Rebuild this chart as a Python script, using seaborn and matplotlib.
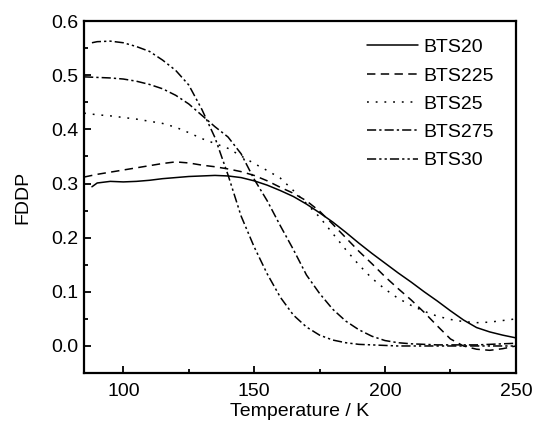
import matplotlib
matplotlib.use("Agg")
import matplotlib.pyplot as plt
import seaborn as sns
import pandas as pd
from matplotlib.ticker import MultipleLocator

# temperature grids (K)
temp_main = [85, 90, 95, 100, 105, 110, 115, 120, 125, 130, 135, 140, 145, 150,
             155, 160, 165, 170, 175, 180, 185, 190, 195, 200, 205, 210, 215,
             220, 225, 230, 235, 240, 245, 250]
temp_late = [88] + temp_main[1:]

bts20 = [0.294, 0.301, 0.304, 0.303, 0.304, 0.306, 0.309, 0.311, 0.313, 0.314,
         0.315, 0.314, 0.311, 0.305, 0.297, 0.287, 0.276, 0.262, 0.246, 0.229,
         0.210, 0.190, 0.171, 0.153, 0.135, 0.118, 0.100, 0.083, 0.065, 0.048,
         0.034, 0.026, 0.020, 0.015]
bts225 = [0.312, 0.317, 0.321, 0.325, 0.329, 0.333, 0.337, 0.340, 0.338, 0.334,
          0.331, 0.327, 0.322, 0.315, 0.305, 0.293, 0.282, 0.268, 0.249, 0.225,
          0.200, 0.175, 0.152, 0.128, 0.106, 0.085, 0.062, 0.037, 0.013, 0.000,
          -0.006, -0.008, -0.005, 0.000]
bts25 = [0.430, 0.427, 0.425, 0.422, 0.419, 0.415, 0.411, 0.404, 0.394, 0.383,
         0.374, 0.365, 0.351, 0.337, 0.324, 0.310, 0.287, 0.263, 0.238, 0.208,
         0.178, 0.150, 0.125, 0.105, 0.088, 0.075, 0.064, 0.055, 0.049, 0.045,
         0.043, 0.044, 0.047, 0.050]
bts275 = [0.497, 0.496, 0.495, 0.493, 0.489, 0.483, 0.475, 0.463, 0.447, 0.426,
          0.405, 0.386, 0.355, 0.308, 0.268, 0.222, 0.178, 0.131, 0.097, 0.068,
          0.046, 0.030, 0.018, 0.010, 0.006, 0.004, 0.003, 0.002, 0.002, 0.002,
          0.002, 0.003, 0.004, 0.005]
bts30 = [0.560, 0.562, 0.563, 0.560, 0.553, 0.544, 0.528, 0.509, 0.482, 0.437,
         0.385, 0.316, 0.240, 0.183, 0.133, 0.090, 0.057, 0.035, 0.020, 0.011,
         0.006, 0.003, 0.002, 0.001, 0.000, 0.000, 0.000, 0.000, 0.000, 0.000,
         0.000, 0.000, 0.000, 0.000]

samples = ["BTS20", "BTS225", "BTS25", "BTS275", "BTS30"]
series = [(temp_late, bts20), (temp_main, bts225), (temp_main, bts25),
          (temp_main, bts275), (temp_late, bts30)]

frames = []
for name, (t, v) in zip(samples, series):
    frames.append(pd.DataFrame({"T": t, "FDDP": v, "sample": name}))
df = pd.concat(frames, ignore_index=True)

sns.set_style("ticks", {"axes.edgecolor": "black", "text.color": "black",
                        "xtick.color": "black", "ytick.color": "black",
                        "axes.labelcolor": "black"})
plt.rcParams["font.family"] = ["Liberation Sans", "DejaVu Sans"]

dash_styles = {
    "BTS20": "",
    "BTS225": (5.5, 3.5),
    "BTS25": (1.2, 4.5),
    "BTS275": (6, 2, 1.5, 2),
    "BTS30": (6, 2, 1.5, 2, 1.5, 2),
}

fig = plt.figure(figsize=(5.39, 4.22), dpi=100)
ax = fig.add_axes([0.156, 0.116, 0.801, 0.834])
sns.lineplot(data=df, x="T", y="FDDP", style="sample", style_order=samples,
             dashes=dash_styles, color="black", linewidth=1.1, ax=ax,
             sort=False, estimator=None)

ax.set_xlim(85, 250)
ax.set_ylim(-0.05, 0.6)
ax.set_xticks([100, 150, 200, 250])
ax.set_yticks([0.0, 0.1, 0.2, 0.3, 0.4, 0.5, 0.6])
ax.xaxis.set_minor_locator(MultipleLocator(25))
ax.yaxis.set_minor_locator(MultipleLocator(0.05))
ax.tick_params(which="major", direction="in", length=5, width=1.3,
               labelsize=14, top=False, right=False)
ax.tick_params(which="minor", direction="in", length=3, width=1.3,
               top=False, right=False)
ax.tick_params(axis="x", which="major", pad=7)
ax.tick_params(axis="y", which="major", pad=4)
for s in ax.spines.values():
    s.set_linewidth(1.6)

ax.set_xlabel("Temperature / K", fontsize=14, labelpad=2)
ax.set_ylabel("FDDP", fontsize=14, labelpad=14)

handles, labels = ax.get_legend_handles_labels()
ax.legend(handles, labels, loc="upper right", frameon=False, fontsize=14,
          handlelength=2.6, handletextpad=0.3, labelspacing=0.55,
          bbox_to_anchor=(0.99, 1.0))

fig.savefig("out.png", dpi=100)
